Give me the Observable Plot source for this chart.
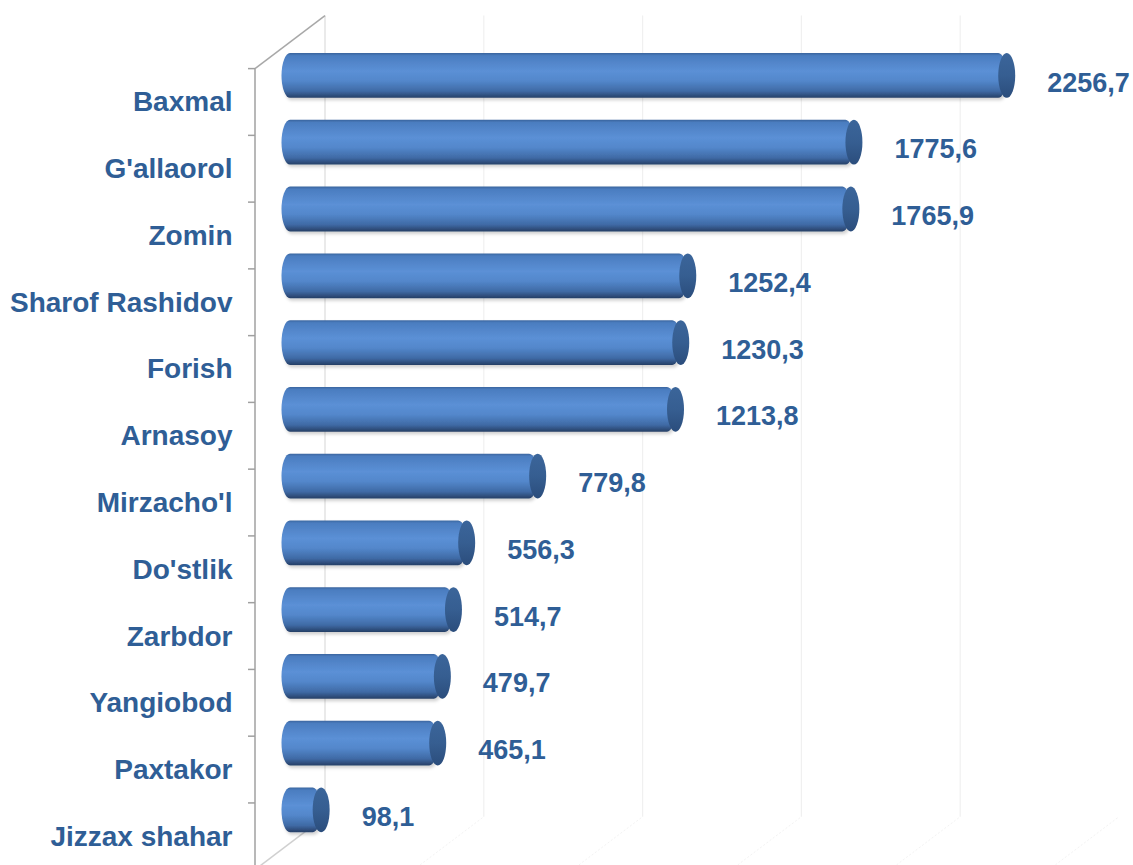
<!DOCTYPE html>
<html>
<head>
<meta charset="utf-8">
<script src="https://cdn.jsdelivr.net/npm/d3@7"></script>
<script src="https://cdn.jsdelivr.net/npm/@observablehq/plot@0.6"></script>
<style>
  html, body { margin: 0; padding: 0; background: #fff; overflow: hidden; }
</style>
</head>
<body>
<div id="chart"></div>
<script>
// ---- data ----
const districts = ["Baxmal", "G'allaorol", "Zomin", "Sharof Rashidov", "Forish", "Arnasoy",
  "Mirzacho'l", "Do'stlik", "Zarbdor", "Yangiobod", "Paxtakor", "Jizzax shahar"];
const values = [2256.7, 1775.6, 1765.9, 1252.4, 1230.3, 1213.8, 779.8, 556.3, 514.7, 479.7, 465.1, 98.1];
const gridValues = [0, 500, 1000, 1500, 2000, 2500];

const data = districts.map((name, i) => ({name, value: values[i]}));
const fmt = v => v.toFixed(1).replace(".", ",");

const textColor = "#2F5E96";
const DX = 70, DY = -53;          // 3D depth of the frame
const BDX = DX / 2, BDY = -26.5;  // bars sit mid-depth

function defs() {
  const d = d3.create("svg:defs");
  const g = d.append("linearGradient").attr("id", "bodyGrad")
    .attr("x1", 0).attr("y1", 0).attr("x2", 0).attr("y2", 1);
  [[0, "#3A659E"], [0.06, "#4B7DC0"], [0.4, "#5B90D6"], [0.62, "#5387CB"], [0.85, "#3F6AA5"], [1, "#263F66"]]
    .forEach(([o, c]) => g.append("stop").attr("offset", o).attr("stop-color", c));
  const c = d.append("linearGradient").attr("id", "capGrad")
    .attr("x1", 0).attr("y1", 0).attr("x2", 0).attr("y2", 1);
  [[0, "#3B659A"], [0.5, "#365E91"], [1, "#2B4D7C"]]
    .forEach(([o, col]) => c.append("stop").attr("offset", o).attr("stop-color", col));
  const f = d.append("filter").attr("id", "shadow").attr("x", "-5%").attr("y", "-20%")
    .attr("width", "110%").attr("height", "150%");
  f.append("feDropShadow").attr("dx", 1.5).attr("dy", 2.5).attr("stdDeviation", 1.5)
    .attr("flood-color", "#000").attr("flood-opacity", 0.18);
  return d.node();
}

function frame(index, scales) {
  const {x, y} = scales;
  const g = d3.create("svg:g").attr("fill", "none");
  const line = (x1, y1, x2, y2, stroke, w, dash) => {
    const l = g.append("line").attr("x1", x1).attr("y1", y1).attr("x2", x2).attr("y2", y2)
      .attr("stroke", stroke).attr("stroke-width", w);
    if (dash) l.attr("stroke-dasharray", dash);
  };
  const [yTop, yBot] = y.range();
  const x0 = x(0);
  const maxV = d3.max(gridValues);
  // floor lines
  for (const v of gridValues) if (v > 0) line(x(v), yBot, x(v) + DX, yBot + DY, "#F3F3F3", 1, "2,2");
  // back wall gridlines
  for (const v of gridValues) if (v < maxV)
    line(x(v) + DX, yTop + DY, x(v) + DX, yBot + DY, v === 0 ? "#DCDCDC" : "#F0F0F0", 1.2);
  // left wall edges
  line(x0, yTop, x0 + DX, yTop + DY, "#A8A8A8", 1.5);
  line(x0, yBot, x0 + DX, yBot + DY, "#D0D0D0", 1.5);
  line(x0, yTop, x0, yBot, "#A0A0A0", 1.5);
  for (const c of y.domain()) line(x0 - 7, y(c), x0, y(c), "#A0A0A0", 1.5);
  return g.node();
}

const chart = Plot.plot({
  width: 1133,
  height: 865,
  marginLeft: 255,
  marginRight: 84,
  marginTop: 0,
  marginBottom: 0,
  style: {fontFamily: "'Liberation Sans', Arial, sans-serif", background: "#fff", overflow: "visible"},
  x: {domain: [0, 2500], axis: null},
  y: {domain: districts, range: [68.6, 869.7], padding: 0, round: false},
  marks: [
    defs,
    frame,
    Plot.axisY({
      tickSize: 0, tickPadding: 23, label: null,
      fontSize: 28, fontWeight: "bold", color: textColor
    }),
    Plot.barX(data, {
      x1: 0, x2: "value", y: "name",
      insetTop: 11, insetBottom: 11, insetLeft: -8.5, insetRight: 0,
      rx: 8.5, ry: 22.4,
      fill: "url(#bodyGrad)", dx: BDX, dy: BDY, filter: null,
      render: (i, s, v, d, ctx, next) => { const n = next(i, s, v, d, ctx); n.setAttribute("filter", "url(#shadow)"); return n; }
    }),
    Plot.barX(data, {
      x1: "value", x2: "value", y: "name",
      insetTop: 11, insetBottom: 11, insetLeft: -8.5, insetRight: -8.5,
      rx: 8.5, ry: 22.4,
      fill: "url(#capGrad)", dx: BDX, dy: BDY
    }),
    Plot.text(data, {
      x: "value", y: "name", text: d => fmt(d.value),
      textAnchor: "start", dx: BDX + 40, dy: BDY + 7,
      fontSize: 27, fontWeight: "bold", fill: textColor
    })
  ]
});
document.getElementById("chart").appendChild(chart);
</script>
</body>
</html>
